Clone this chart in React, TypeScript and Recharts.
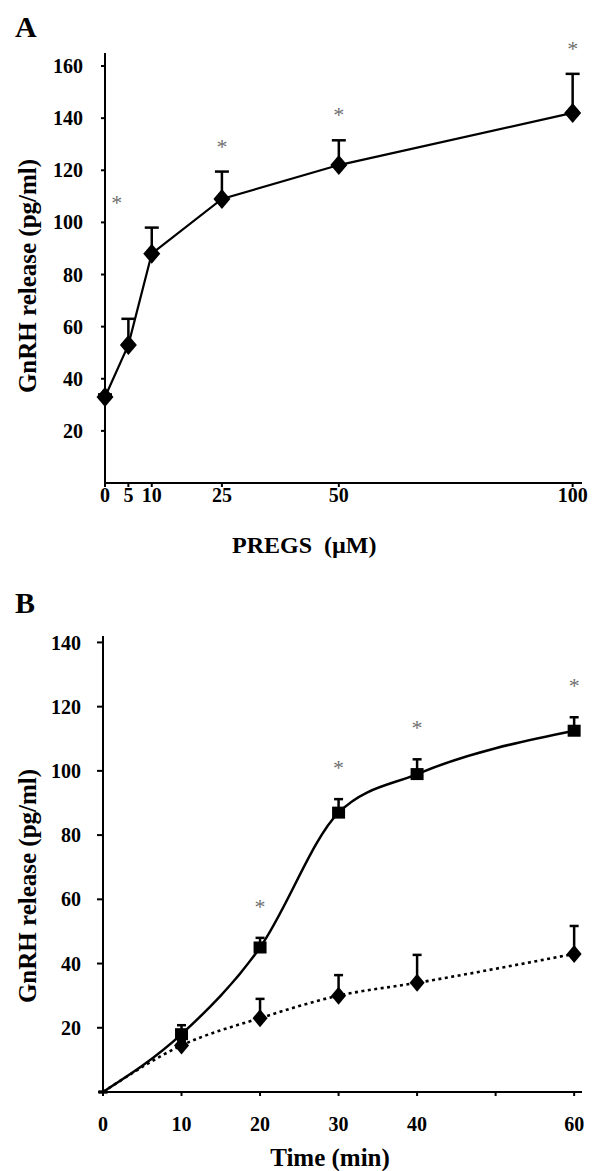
import React from "react";
import { LineChart, Line, XAxis, YAxis, ErrorBar } from "recharts";

// Panel A: GnRH release vs PREGS concentration
const concA = [0, 5, 10, 25, 50, 100];
const gnrhA = [33, 53, 88, 109, 122, 142];
const semA = [1, 10, 10, 10.5, 9.5, 15];
const starA = [false, false, true, true, true, true];
const ticksAX = [0, 5, 10, 25, 50, 100];
const ticksAY = [20, 40, 60, 80, 100, 120, 140, 160];

// Panel B: time course, PREGS (squares) vs control (diamonds)
const timeB = [0, 10, 20, 30, 40, 60];
const pregsB = [0, 18, 45, 87, 99, 112.5];
const pregsSemB = [0, 2.8, 3, 4.2, 4.6, 4.2];
const ctrlB = [0, 14.5, 23, 30, 34, 43];
const ctrlSemB = [0, 1.5, 6, 6.4, 8.7, 8.7];
const starB = [false, false, true, true, true, true];
const ticksBX = [0, 10, 20, 30, 40, 50, 60];
const ticksBY = [20, 40, 60, 80, 100, 120, 140];

const dataA = concA.map((c, i) => ({
  conc: c,
  gnrh: gnrhA[i],
  err: [0, semA[i]],
  star: starA[i] ? gnrhA[i] + semA[i] : null,
}));

const dataB = timeB.map((t, i) => ({
  time: t,
  pregs: pregsB[i],
  pregsErr: [0, pregsSemB[i]],
  ctrl: ctrlB[i],
  ctrlErr: [0, ctrlSemB[i]],
  star: starB[i] ? pregsB[i] + pregsSemB[i] : null,
}));

const SERIF = '"Liberation Serif", "Times New Roman", serif';
const tickStyle = { fill: "#000", fontSize: 20, fontWeight: 700, fontFamily: SERIF };
const axisStroke = { stroke: "#000", strokeWidth: 2 };

// the first star in A sits left of its point so it clears the line
const STAR_NUDGE_A: Record<number, number> = { 2: -35 };

const diamond = (w: number, h: number, skipFirst = false) => (p: any) => {
  const { cx, cy, index } = p;
  if (cx == null || cy == null || (skipFirst && index === 0)) return <g key={index} />;
  const pts = `${cx},${cy - h / 2} ${cx + w / 2},${cy} ${cx},${cy + h / 2} ${cx - w / 2},${cy}`;
  return <polygon key={index} points={pts} fill="#000" />;
};

const square = (w: number, h: number) => (p: any) => {
  const { cx, cy, index } = p;
  if (cx == null || cy == null || index === 0) return <g key={index} />;
  return <rect key={index} x={cx - w / 2} y={cy - h / 2} width={w} height={h} fill="#000" />;
};

const starMark = (lift: number, nudge: Record<number, number> = {}) => (p: any) => {
  const { cx, cy, index, value } = p;
  if (cx == null || cy == null || value == null) return <g key={index} />;
  return (
    <text
      key={index}
      x={cx + (nudge[index] || 0)}
      y={cy - lift}
      textAnchor="middle"
      fontSize={22}
      fontFamily={SERIF}
      fill="#707070"
    >
      *
    </text>
  );
};

const overlay = (style: React.CSSProperties): React.CSSProperties => ({
  position: "absolute",
  fontFamily: SERIF,
  fontWeight: 700,
  color: "#000",
  whiteSpace: "pre",
  ...style,
});

export default function App() {
  return (
    <div style={{ position: "absolute", left: 0, top: 0, width: 595, height: 1171, background: "#fff" }}>
      {/* Panel A */}
      <div style={{ position: "absolute", left: 0, top: 0 }}>
        <LineChart width={595} height={580} data={dataA} margin={{ top: 53, right: 13, bottom: 0, left: 0 }}>
          <XAxis
            type="number"
            dataKey="conc"
            domain={[0, 102]}
            ticks={ticksAX}
            interval={0}
            height={97}
            tickSize={4}
            tickMargin={1}
            axisLine={axisStroke}
            tickLine={axisStroke}
            tick={tickStyle}
          />
          <YAxis
            type="number"
            domain={[0, 165]}
            ticks={ticksAY}
            interval={0}
            width={105}
            tickSize={4}
            tickMargin={18}
            axisLine={axisStroke}
            tickLine={axisStroke}
            tick={tickStyle}
          />
          <Line
            type="linear"
            dataKey="gnrh"
            stroke="#000"
            strokeWidth={2.2}
            dot={diamond(17, 20)}
            activeDot={false}
            isAnimationActive={false}
          >
            <ErrorBar dataKey="err" direction="y" width={7} stroke="#000" strokeWidth={2.5} />
          </Line>
          <Line
            dataKey="star"
            stroke="none"
            dot={starMark(18, STAR_NUDGE_A)}
            activeDot={false}
            isAnimationActive={false}
          />
        </LineChart>
      </div>

      {/* Panel B */}
      <div style={{ position: "absolute", left: 0, top: 580 }}>
        <LineChart width={595} height={591} data={dataB} margin={{ top: 56, right: 13, bottom: 0, left: 0 }}>
          <XAxis
            type="number"
            dataKey="time"
            domain={[0, 61]}
            ticks={ticksBX}
            interval={0}
            height={79}
            tickSize={4}
            tickMargin={21}
            tickFormatter={(v: number) => (v === 50 ? "" : String(v))}
            axisLine={axisStroke}
            tickLine={axisStroke}
            tick={tickStyle}
          />
          <YAxis
            type="number"
            domain={[0, 142]}
            ticks={ticksBY}
            interval={0}
            width={103}
            tickSize={6}
            tickMargin={16}
            axisLine={axisStroke}
            tickLine={axisStroke}
            tick={tickStyle}
          />
          <Line
            type="monotone"
            dataKey="ctrl"
            stroke="#000"
            strokeWidth={2.6}
            strokeDasharray="3 3.5"
            dot={diamond(15, 18, true)}
            activeDot={false}
            isAnimationActive={false}
          >
            <ErrorBar dataKey="ctrlErr" direction="y" width={4.5} stroke="#000" strokeWidth={2.5} />
          </Line>
          <Line
            type="monotone"
            dataKey="pregs"
            stroke="#000"
            strokeWidth={2.5}
            dot={square(13, 12)}
            activeDot={false}
            isAnimationActive={false}
          >
            <ErrorBar dataKey="pregsErr" direction="y" width={4.5} stroke="#000" strokeWidth={2.5} />
          </Line>
          <Line
            dataKey="star"
            stroke="none"
            dot={starMark(24)}
            activeDot={false}
            isAnimationActive={false}
          />
        </LineChart>
      </div>

      {/* panel letters and axis titles */}
      <div style={overlay({ left: 15, top: 12, fontSize: 30, lineHeight: "30px" })}>A</div>
      <div style={overlay({ left: 15, top: 588, fontSize: 30, lineHeight: "30px" })}>B</div>
      <div
        style={overlay({
          left: 27,
          top: 276,
          fontSize: 25,
          lineHeight: "25px",
          transform: "translate(-50%, -50%) rotate(-90deg)",
        })}
      >
        GnRH release (pg/ml)
      </div>
      <div
        style={overlay({
          left: 27,
          top: 886,
          fontSize: 25,
          lineHeight: "25px",
          transform: "translate(-50%, -50%) rotate(-90deg)",
        })}
      >
        GnRH release (pg/ml)
      </div>
      <div style={overlay({ left: 232, top: 533, fontSize: 24, lineHeight: "24px" })}>PREGS  (µM)</div>
      <div style={overlay({ left: 330, top: 1145, fontSize: 25, lineHeight: "25px", transform: "translateX(-50%)" })}>
        Time (min)
      </div>
    </div>
  );
}
